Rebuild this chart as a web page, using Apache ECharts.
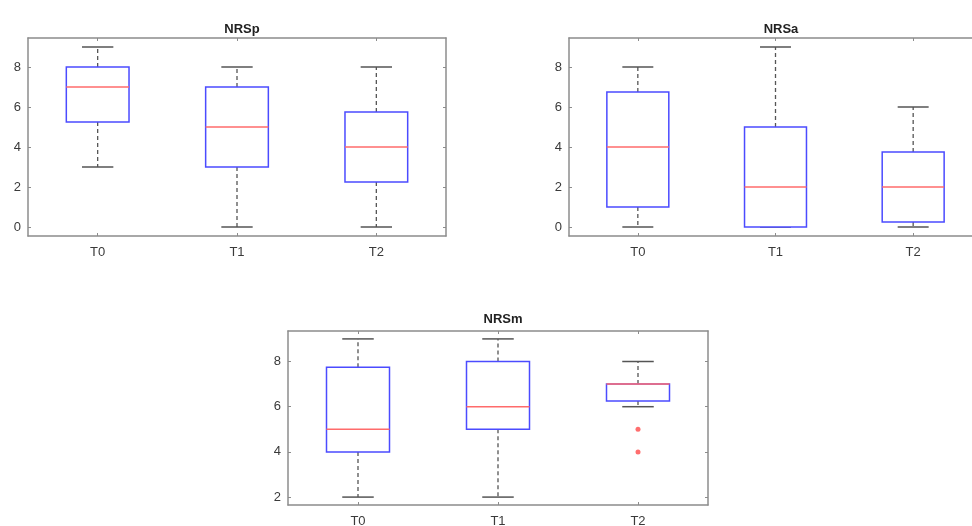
<!DOCTYPE html>
<html>
<head>
<meta charset="utf-8">
<script src="https://cdn.jsdelivr.net/npm/echarts@6/dist/echarts.min.js"></script>
<style>
  html, body { margin: 0; padding: 0; background: #fff; }
  #chart { width: 972px; height: 526px; }
</style>
</head>
<body>
<div id="chart"></div>
<script>
const categories = ["T0", "T1", "T2"];
// [min, q1, median, q3, max] per category
const nrspStats = [[3, 5.25, 7, 8, 9], [0, 3, 5, 7, 8], [0, 2.25, 4, 5.75, 8]];
const nrsaStats = [[0, 1, 4, 6.75, 8], [0, 0, 2, 5, 9], [0, 0.25, 2, 3.75, 6]];
const nrsmStats = [[2, 4, 5, 7.75, 9], [2, 5, 6, 8, 9], [6, 6.25, 7, 7, 8]];
const nrsmOutliers = [["T2", 5], ["T2", 4]];
const topTicks = [0, 2, 4, 6, 8];
const bottomTicks = [2, 4, 6, 8];

const FONT = "Liberation Sans, Arial, sans-serif";
const AXIS_COLOR = "#8c8c8c";
const TEXT_COLOR = "#3a3a3a";
const BOX_COLOR = "#4b4bff";
const MEDIAN_COLOR = "#ff6b6b";
const WHISKER_COLOR = "#555";

// the right-hand panel runs past the edge of the picture
const panels = [
  { title: "NRSp", stats: nrspStats, ticks: topTicks, range: [-0.45, 9.45],
    grid: { left: 28, top: 38, width: 418, height: 198 }, titleX: 237, titleY: 18 },
  { title: "NRSa", stats: nrsaStats, ticks: topTicks, range: [-0.45, 9.45],
    grid: { left: 569, top: 38, width: 413, height: 198 }, titleX: 776, titleY: 18 },
  { title: "NRSm", stats: nrsmStats, ticks: bottomTicks, range: [1.65, 9.35],
    grid: { left: 288, top: 331, width: 420, height: 174 }, titleX: 498, titleY: 308 }
];

function renderBox(params, api) {
  const x = api.value(0);
  const lo = api.coord([x, api.value(1)]);
  const q1 = api.coord([x, api.value(2)]);
  const med = api.coord([x, api.value(3)]);
  const q3 = api.coord([x, api.value(4)]);
  const hi = api.coord([x, api.value(5)]);
  const band = api.size([1, 0])[0];
  const boxW = band * 0.45;
  const capW = boxW * 0.5;
  const cx = lo[0];
  const dash = { stroke: WHISKER_COLOR, lineWidth: 1.3, lineDash: [4, 3] };
  const solid = { stroke: WHISKER_COLOR, lineWidth: 1.5 };
  return {
    type: "group",
    children: [
      { type: "line", shape: { x1: cx, y1: q3[1], x2: cx, y2: hi[1] }, style: dash },
      { type: "line", shape: { x1: cx, y1: q1[1], x2: cx, y2: lo[1] }, style: dash },
      { type: "line", shape: { x1: cx - capW / 2, y1: hi[1], x2: cx + capW / 2, y2: hi[1] }, style: solid },
      { type: "line", shape: { x1: cx - capW / 2, y1: lo[1], x2: cx + capW / 2, y2: lo[1] }, style: solid },
      { type: "rect", shape: { x: cx - boxW / 2, y: q3[1], width: boxW, height: q1[1] - q3[1] },
        style: { fill: "#fff", stroke: BOX_COLOR, lineWidth: 1.5 } },
      { type: "line", shape: { x1: cx - boxW / 2, y1: med[1], x2: cx + boxW / 2, y2: med[1] },
        style: { stroke: MEDIAN_COLOR, lineWidth: 1.5 } }
    ]
  };
}

const option = {
  animation: false,
  title: [],
  grid: [],
  xAxis: [],
  yAxis: [],
  series: []
};

panels.forEach((p, i) => {
  option.title.push({
    text: p.title, left: p.titleX, top: p.titleY, textAlign: "center",
    textStyle: { fontFamily: FONT, fontSize: 13, fontWeight: "bold", color: "#222" }
  });
  option.grid.push(Object.assign({ show: false, outerBoundsMode: "none", containLabel: false }, p.grid));
  const axisLine = { show: true, onZero: false, lineStyle: { color: AXIS_COLOR, width: 1.5 } };
  option.xAxis.push({
    type: "category", gridIndex: i, data: categories, position: "bottom",
    axisLine, axisTick: { show: true, inside: true, alignWithLabel: true, length: 3, lineStyle: { color: AXIS_COLOR } },
    axisLabel: { fontFamily: FONT, fontSize: 13, color: TEXT_COLOR, margin: 10 },
    splitLine: { show: false }
  });
  option.xAxis.push({
    type: "category", gridIndex: i, data: categories, position: "top",
    axisLine, axisTick: { show: true, inside: true, alignWithLabel: true, length: 3, lineStyle: { color: AXIS_COLOR } },
    axisLabel: { show: false }, splitLine: { show: false }
  });
  const yTick = { show: true, inside: true, length: 3, customValues: p.ticks, lineStyle: { color: AXIS_COLOR } };
  option.yAxis.push({
    type: "value", gridIndex: i, min: p.range[0], max: p.range[1], position: "left",
    axisLine, axisTick: yTick,
    axisLabel: { fontFamily: FONT, fontSize: 13, color: TEXT_COLOR, margin: 7, customValues: p.ticks },
    splitLine: { show: false }
  });
  option.yAxis.push({
    type: "value", gridIndex: i, min: p.range[0], max: p.range[1], position: "right",
    axisLine, axisTick: yTick, axisLabel: { show: false }, splitLine: { show: false }
  });
  option.series.push({
    type: "custom",
    xAxisIndex: i * 2, yAxisIndex: i * 2,
    renderItem: renderBox,
    encode: { x: 0, y: [1, 2, 3, 4, 5] },
    data: p.stats.map((s, k) => [k].concat(s)),
    clip: false
  });
});

option.series.push({
  type: "scatter",
  xAxisIndex: 4, yAxisIndex: 4,
  symbolSize: 5,
  itemStyle: { color: "#ff4a4a" },
  data: nrsmOutliers
});

const chart = echarts.init(document.getElementById("chart"));
chart.setOption(option);
</script>
</body>
</html>
